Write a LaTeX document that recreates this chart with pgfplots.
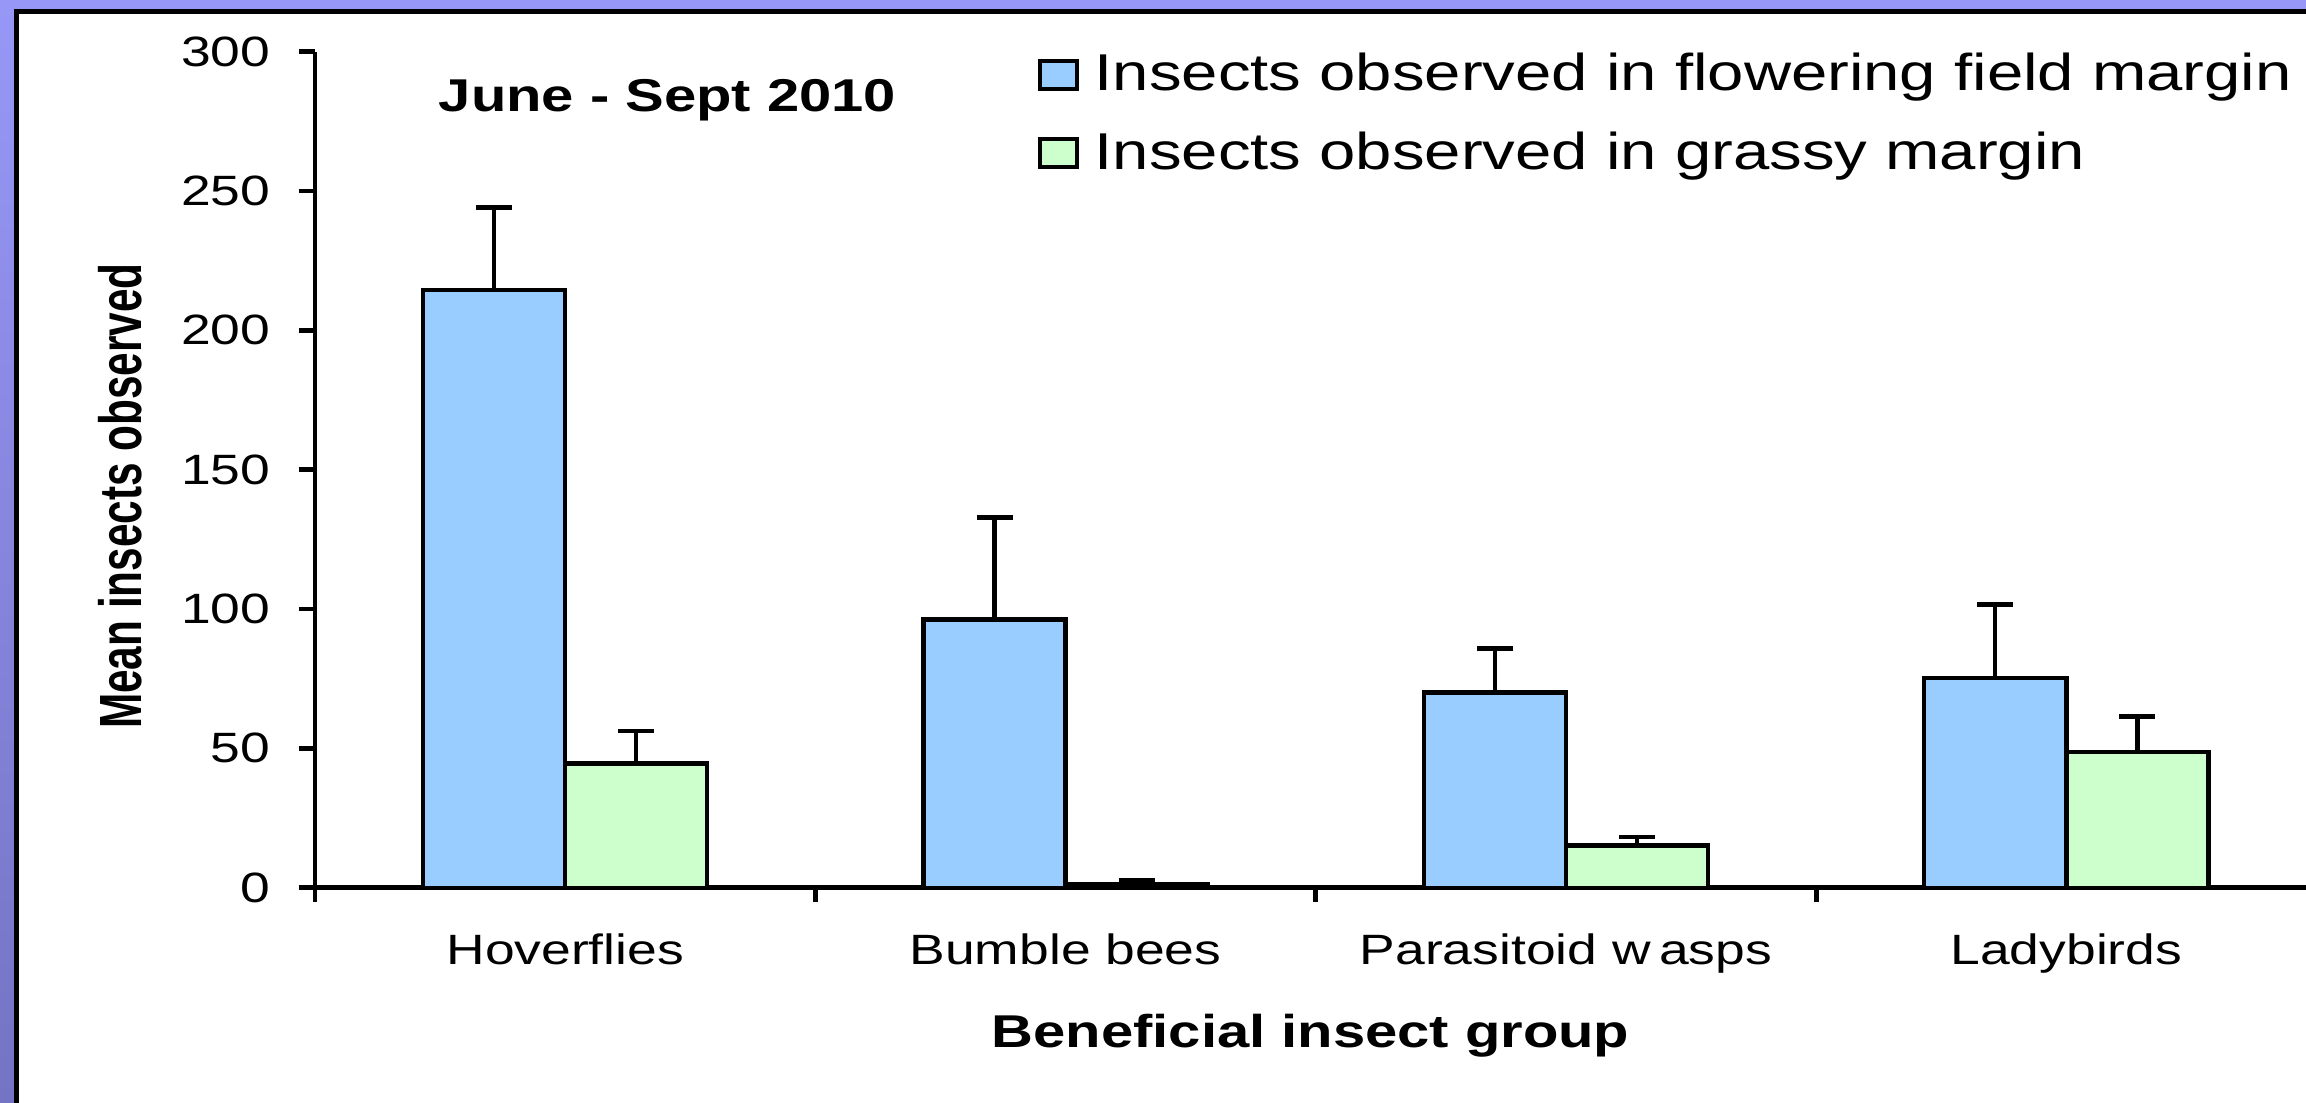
\documentclass[border=0pt]{standalone}
\usepackage{fontspec}
\setmainfont[FakeStretch=1.26]{Liberation Sans}
\newfontfamily\ylabfont[FakeStretch=0.71]{Liberation Sans}
\usepackage{pgfplots}
\pgfplotsset{compat=1.18}
\definecolor{bgtop}{HTML}{9797F7}
\definecolor{bgbot}{HTML}{7474C4}
\definecolor{barblue}{HTML}{99CCFF}
\definecolor{bargreen}{HTML}{CCFFCC}
\begin{document}
\begin{tikzpicture}
\useasboundingbox (0,0) rectangle (576.5pt,275.75pt);
\clip (0,0) rectangle (576.5pt,275.75pt);
\shade[top color=bgtop, bottom color=bgbot] (0,0) rectangle (576.5pt,275.75pt);
\draw[fill=white, line width=1.2pt] (4.2pt,-10pt) rectangle (600pt,272.9pt);
\begin{axis}[
  at={(78.75pt,53.82pt)}, anchor=south west,
  scale only axis, width=497.75pt, height=209pt,
  xmin=0, xmax=3.979, ymin=0, ymax=300,
  axis lines*=left,
  axis line style={line width=1.2pt, black},
  tick align=outside,
  major tick length=4pt, minor tick length=3.5pt,
  tick style={line width=1.2pt, black},
  ytick={0,50,...,300},
  xtick={0.5,1.5,2.5,3.5},
  xticklabels={Hoverflies,Bumble bees,Parasitoid w\kern0.2em asps,Ladybirds},
  major x tick style={draw=none},
  minor xtick={0,1,2,3},
  /pgf/number format/assume math mode=true,
  ticklabel style={font=\fontsize{10.6}{12}\selectfont},
  yticklabel style={inner sep=0pt, xshift=-7pt},
  xticklabel style={inner sep=0pt, yshift=-7.4pt},
  xlabel={Beneficial insect group},
  xlabel style={at={(axis description cs:0.5,-0.1906)}, anchor=base, inner sep=0pt, font=\bfseries\fontsize{11.5}{13}\selectfont},
  ylabel={Mean insects observed},
  ylabel style={at={(axis description cs:-0.0977,0.4685)}, anchor=center, inner sep=0pt, font=\ylabfont\bfseries\fontsize{14.9}{16}\selectfont},
  ybar=0pt, bar width=0.284,
  every axis plot post/.append style={legend image code/.code={\draw[#1,line width=1pt] (0pt,-3.5pt) rectangle (9.25pt,3.5pt);}},
  legend style={at={(axis cs:1.4429,299.7)}, anchor=north west, draw=none, fill=none, inner sep=0pt, row sep=8.7pt, column sep=4pt, font=\fontsize{12.95}{14}\selectfont, nodes={inner sep=0pt}},
  legend cell align=left,
  clip=false,
]
\addplot[fill=barblue, draw=black, line width=1.1pt,
  error bars/.cd, y dir=plus, y explicit,
  error bar style={line width=1.1pt, black},
  error mark options={rotate=90, line width=1.1pt, black, mark size=4.5pt}]
  coordinates {(0.5,214.6) +- (0,29.5) (1.5,96.3) +- (0,36.5) (2.5,70.0) +- (0,15.8) (3.5,75.3) +- (0,26.4)};
\addlegendentry{Insects observed in flowering field margin}
\addplot[fill=bargreen, draw=black, line width=1.1pt,
  error bars/.cd, y dir=plus, y explicit,
  error bar style={line width=1.1pt, black},
  error mark options={rotate=90, line width=1.1pt, black, mark size=4.5pt}]
  coordinates {(0.5,44.6) +- (0,11.7) (1.5,1.3) +- (0,1.5) (2.5,15.1) +- (0,3.2) (3.5,48.7) +- (0,12.7)};
\addlegendentry{Insects observed in grassy margin}
\node[anchor=base west, inner sep=0pt, font=\bfseries\fontsize{11.5}{13}\selectfont] at (axis cs:0.2458,278.7) {June - Sept 2010};
\end{axis}
\end{tikzpicture}
\end{document}
